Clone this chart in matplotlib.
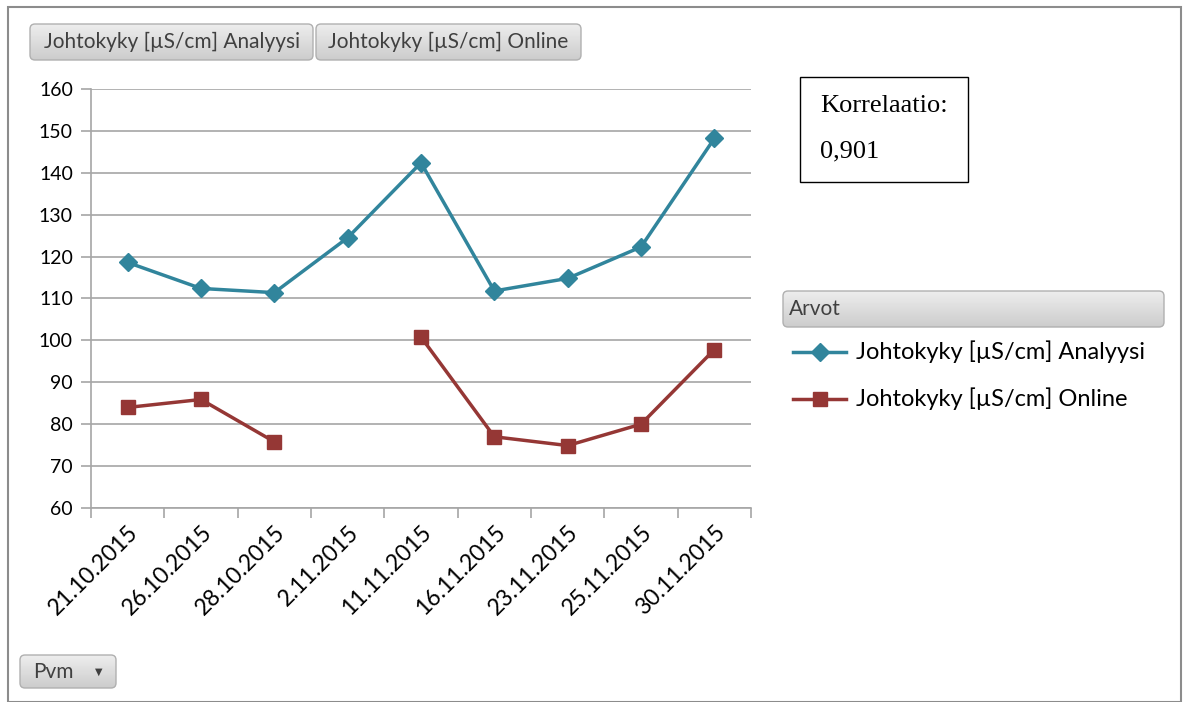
import numpy as np
import matplotlib
matplotlib.use("Agg")
import matplotlib.pyplot as plt
from matplotlib.patches import FancyBboxPatch, Rectangle
from matplotlib.lines import Line2D

plt.rcParams['font.family'] = ['Lato', 'DejaVu Sans']

# Mittauspäivät ja johtokykyarvot
pvm = ['21.10.2015', '26.10.2015', '28.10.2015', '2.11.2015', '11.11.2015',
       '16.11.2015', '23.11.2015', '25.11.2015', '30.11.2015']
analyysi = [118.6, 112.4, 111.4, 124.5, 142.4, 111.8, 114.8, 122.3, 148.2]
online = [84, 85.9, 75.8, np.nan, 100.8, 77, 74.9, 80, 97.8]
korrelaatio = '0,901'

sininen = '#31859C'
punainen = '#953735'

W, H = 1189, 702
fig = plt.figure(figsize=(W / 100, H / 100), dpi=100)

def fx(px):
    return px / W

def fy(py):
    return 1 - py / H

# ulkokehys
fig.add_artist(Rectangle((fx(8), fy(702)), fx(1181 - 8), fy(7) - fy(702),
                         transform=fig.transFigure, fill=False,
                         edgecolor='#8c8c8c', linewidth=1.5))

ax = fig.add_axes([fx(91), fy(508), fx(751 - 91), fy(89) - fy(508)])
x = np.arange(len(pvm))
ax.plot(x, analyysi, color=sininen, lw=2.5, marker='D', ms=9,
        label='Johtokyky [µS/cm] Analyysi')
ax.plot(x, online, color=punainen, lw=2.5, marker='s', ms=10.5,
        label='Johtokyky [µS/cm] Online')

ax.set_xlim(-0.5, len(pvm) - 0.5)
ax.set_ylim(60, 160)
ax.set_yticks(np.arange(60, 161, 10))
ax.yaxis.grid(True, color='#a6a6a6', lw=1.2)
ax.set_axisbelow(True)
for s in ['top', 'right']:
    ax.spines[s].set_visible(False)
for s in ['left', 'bottom']:
    ax.spines[s].set_color('#a6a6a6')
    ax.spines[s].set_linewidth(1.2)

ax.set_xticks(x)
ax.set_xticklabels(pvm, rotation=45, ha='right', rotation_mode='anchor',
                   fontsize=16.5)
ax.tick_params(axis='x', length=0, pad=10)
ax.set_xticks(np.arange(-0.5, len(pvm)), minor=True)
ax.tick_params(axis='x', which='minor', length=7, color='#a6a6a6', width=1.2)
ax.tick_params(axis='y', length=7, color='#a6a6a6', width=1.2, labelsize=14,
               pad=6)

liuku = np.linspace(0.93, 0.80, 64).reshape(-1, 1)


def nappi(x0, y0, x1, y1, teksti, fs=15, tx=None):
    leveys, korkeus = x1 - x0, y1 - y0
    bax = fig.add_axes([fx(x0), fy(y1), fx(leveys), fy(y0) - fy(y1)])
    bax.set_axis_off()
    bax.set_xlim(0, 1)
    bax.set_ylim(0, 1)
    reuna = FancyBboxPatch((0, 0), 1, 1,
                           boxstyle='round,pad=0,rounding_size=%f' % (5 / leveys),
                           mutation_aspect=leveys / korkeus,
                           facecolor='none', edgecolor='#b0b0b0', linewidth=1,
                           clip_on=False)
    bax.add_patch(reuna)
    kuva = bax.imshow(liuku, cmap='gray', vmin=0, vmax=1, aspect='auto',
                      extent=(0, 1, 0, 1), origin='upper')
    kuva.set_clip_path(reuna)
    fig.text(fx(tx if tx else (x0 + x1) / 2), fy((y0 + y1) / 2), teksti,
             ha='left' if tx else 'center', va='center', fontsize=fs,
             color='#404040')


nappi(30, 24, 313, 60, 'Johtokyky [µS/cm] Analyysi')
nappi(316, 24, 581, 60, 'Johtokyky [µS/cm] Online')
nappi(783, 291, 1164, 327, 'Arvot', tx=789)
nappi(20, 655, 116, 688, 'Pvm', tx=33)
fig.text(fx(99), fy(672), '▼', fontsize=7, color='#404040',
         ha='center', va='center', family='DejaVu Sans')

# selite
for i, (vari, merkki, ms, nimi) in enumerate([
        (sininen, 'D', 9, 'Johtokyky [µS/cm] Analyysi'),
        (punainen, 's', 10.5, 'Johtokyky [µS/cm] Online')]):
    yy = fy(352 + i * 47)
    fig.add_artist(Line2D([fx(793), fx(846)], [yy, yy], color=vari, lw=2.5,
                          transform=fig.transFigure))
    fig.add_artist(Line2D([fx(819.5)], [yy], color=vari, marker=merkki, ms=ms,
                          transform=fig.transFigure))
    fig.text(fx(856), yy, nimi, fontsize=17, va='center', color='#000000')

# korrelaatiolaatikko
fig.add_artist(Rectangle((fx(800), fy(182)), fx(968 - 800), fy(77) - fy(182),
                         transform=fig.transFigure, fill=False,
                         edgecolor='#000000', linewidth=1))
fig.text(fx(820), fy(106), 'Korrelaatio:', fontsize=19,
         family='Liberation Serif', va='center')
fig.text(fx(820), fy(151), korrelaatio, fontsize=19,
         family='Liberation Serif', va='center')

fig.savefig('out.png', dpi=100)
